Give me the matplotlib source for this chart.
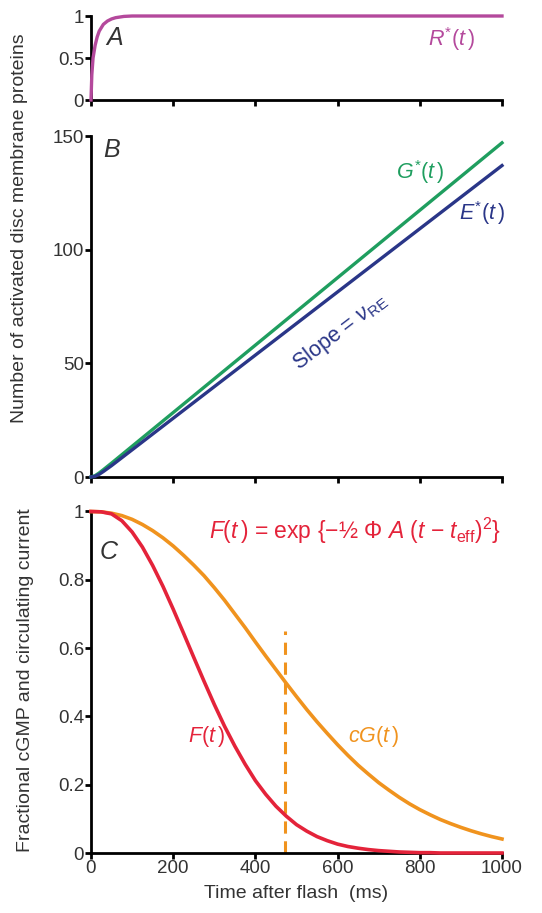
import numpy as np
import matplotlib
matplotlib.use('Agg')
import matplotlib.pyplot as plt

plt.rcParams['font.family'] = ['Liberation Sans', 'DejaVu Sans']
plt.rcParams['mathtext.fontset'] = 'custom'
plt.rcParams['mathtext.rm'] = 'Liberation Sans'
plt.rcParams['mathtext.it'] = 'Liberation Sans:italic'
plt.rcParams['mathtext.bf'] = 'Liberation Sans:bold'

# 颜色
c_R = '#b4499c'
c_G = '#1f9e5f'
c_E = '#2a3688'
c_F = '#e4233a'
c_cG = '#f0931e'
c_txt = '#333333'

# 面板A: R*(t)
t_R = [0, 2, 5, 10, 15, 20, 30, 40, 50, 60, 80, 100, 1000]
R_vals = [0, 0.3, 0.5, 0.65, 0.75, 0.82, 0.9, 0.94, 0.965, 0.98, 0.995, 1.0, 1.0]

# 面板B: G*(t), E*(t)
t_B = [0, 10, 20, 30, 50, 1000]
G_vals = [0, 0.6, 1.8, 3.2, 6.1, 147]
E_vals = [0, 0.3, 1.2, 2.4, 5.0, 137]

# 面板C: F(t), cG(t)
t_C = list(range(0, 1001, 25))
F_vals = [1.0, 0.999, 0.993, 0.973, 0.94, 0.896, 0.842, 0.781, 0.714, 0.644,
          0.573, 0.503, 0.435, 0.371, 0.313, 0.26, 0.212, 0.172, 0.137, 0.108,
          0.083, 0.064, 0.048, 0.036, 0.026, 0.019, 0.014, 0.01, 0.007, 0.005,
          0.003, 0.002, 0.001, 0.001, 0, 0, 0, 0, 0, 0, 0]
cG_vals = [1.0, 0.999, 0.995, 0.988, 0.977, 0.962, 0.944, 0.923, 0.899, 0.872,
           0.843, 0.812, 0.777, 0.74, 0.70, 0.66, 0.618, 0.577, 0.537, 0.497,
           0.458, 0.42, 0.384, 0.35, 0.317, 0.286, 0.257, 0.231, 0.206, 0.184,
           0.163, 0.144, 0.127, 0.112, 0.098, 0.086, 0.075, 0.065, 0.056, 0.048,
           0.041]
t_half = 472
dash_top = 0.65

x_ticks = [0, 200, 400, 600, 800, 1000]

W, H = 542, 913
fig = plt.figure(figsize=(W / 100, H / 100), dpi=100)


def px_axes(top, bottom):
    # 像素坐标 -> figure坐标
    left, right = 91, 502
    return fig.add_axes([left / W, (H - bottom) / H, (right - left) / W, (bottom - top) / H])


axA = px_axes(16, 100)
axB = px_axes(136, 477)
axC = px_axes(511.5, 853)

for ax in (axA, axB, axC):
    for s in ('top', 'right'):
        ax.spines[s].set_visible(False)
    for s in ('left', 'bottom'):
        ax.spines[s].set_linewidth(2.0)
        ax.spines[s].set_color('black')
    ax.tick_params(direction='out', length=4, width=2.0, labelsize=13.5,
                   labelcolor=c_txt, pad=1)
    ax.set_xlim(0, 1000)
    ax.set_xticks(x_ticks)
    ax.patch.set_visible(False)

# A
axA.plot(t_R, R_vals, color=c_R, lw=2.4, clip_on=False, zorder=3)
axA.set_ylim(0, 1)
axA.set_yticks([0, 0.5, 1])
axA.set_yticklabels(['0', '0.5', '1'])
axA.set_xticklabels([])
axA.text(58, 0.74, 'A', fontsize=18, style='italic', color=c_txt, ha='center', va='center')
axA.text(935, 0.72, r'$R^{*}(t\,)$', fontsize=15.5, color=c_R, ha='right', va='center')

# B
axB.plot(t_B, G_vals, color=c_G, lw=2.4, clip_on=False, zorder=3)
axB.plot(t_B, E_vals, color=c_E, lw=2.4, clip_on=False, zorder=3)
axB.set_ylim(0, 150)
axB.set_yticks([0, 50, 100, 150])
axB.set_xticklabels([])
axB.text(51, 144, 'B', fontsize=18, style='italic', color=c_txt, ha='center', va='center')
axB.text(800, 134, r'$G^{*}(t\,)$', fontsize=15.5, color=c_G, ha='center', va='center')
axB.text(952, 116, r'$E^{*}(t\,)$', fontsize=15.5, color=c_E, ha='center', va='center')
axB.text(605, 64, r'Slope = $\nu_{\rm RE}$', fontsize=15.5, color=c_E, ha='center',
         va='center', rotation=37.4, rotation_mode='anchor')

# C
axC.plot(t_C, cG_vals, color=c_cG, lw=2.6, clip_on=False, zorder=3)
axC.plot(t_C, F_vals, color=c_F, lw=2.6, clip_on=False, zorder=4)
axC.plot([t_half, t_half], [0, dash_top], color=c_cG, lw=2.2, ls=(0, (4, 2.5)), zorder=2)
axC.set_ylim(0, 1)
axC.set_yticks([0, 0.2, 0.4, 0.6, 0.8, 1])
axC.set_yticklabels(['0', '0.2', '0.4', '0.6', '0.8', '1'])
axC.set_xticklabels([str(v) for v in x_ticks])
axC.text(44, 0.88, 'C', fontsize=18, style='italic', color=c_txt, ha='center', va='center')
axC.text(998, 0.944, r'$F(t\,)$ = exp {−½ Φ $A$ ($t$ − $t_{\rm eff}$)$^2$}',
         fontsize=16.5, color=c_F, ha='right', va='center')
axC.text(280, 0.34, r'$F(t\,)$', fontsize=15.5, color=c_F, ha='center', va='center')
axC.text(688, 0.34, r'$cG(t\,)$', fontsize=15.5, color=c_cG, ha='center', va='center')
axC.set_xlabel('Time after flash  (ms)', fontsize=14, color=c_txt, labelpad=6)

fig.text(20 / W, (H - 228) / H, 'Number of activated disc membrane proteins',
         rotation=90, fontsize=14, color=c_txt, ha='center', va='center')
fig.text(26 / W, (H - 680) / H, 'Fractional cGMP and circulating current',
         rotation=90, fontsize=14, color=c_txt, ha='center', va='center')

fig.savefig('out.png', dpi=100)
